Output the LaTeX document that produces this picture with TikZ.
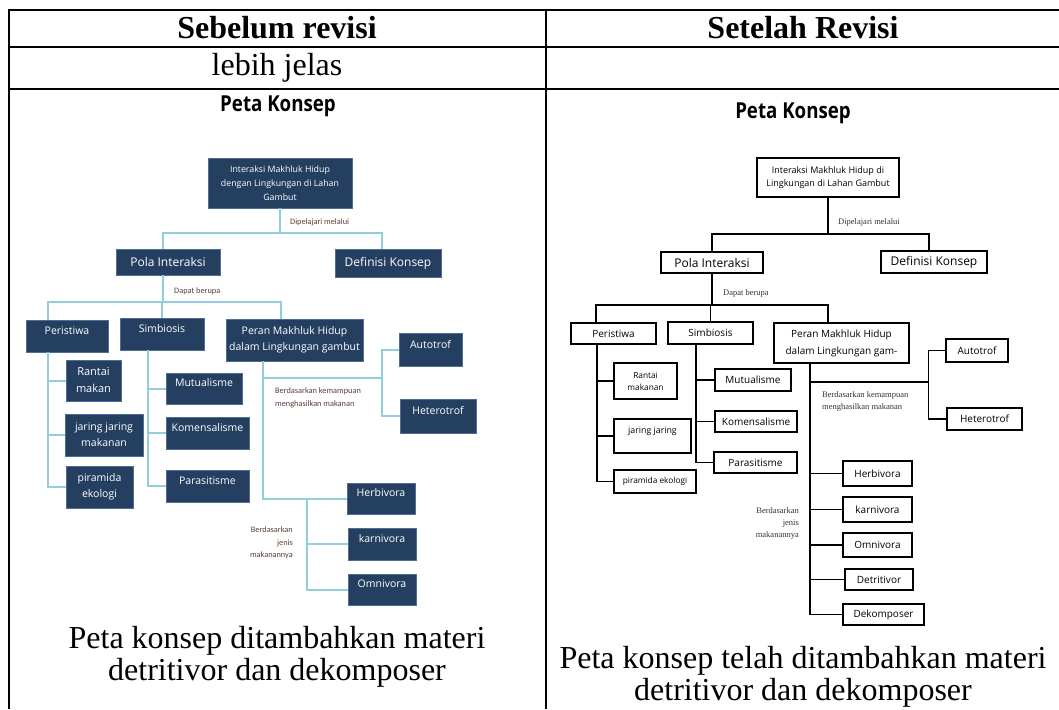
\documentclass[tikz,border=0pt]{standalone}
\usepackage{fontspec}
\setmainfont{Liberation Serif}
\newfontfamily\comicfont{Open Sans}
\newfontfamily\titlefont[FakeStretch=0.85]{Open Sans}
\newfontfamily\labelfont{Carlito}
\usepackage{tikz}
\usetikzlibrary{calc, shadows}
\definecolor{mapnavy}{HTML}{243F60}
\definecolor{navyedge}{HTML}{4F6C92}
\definecolor{lineblue}{HTML}{92CDDC}
\definecolor{labelbrown}{HTML}{5A3E36}

\begin{document}
\begin{tikzpicture}[x=1pt, y=-1pt,
    tableline/.style={line width=1.8pt},
    tablecell/.style={font=\fontsize{32}{32}\selectfont, align=center, inner sep=0pt},
    maptitle/.style={font=\titlefont\bfseries\fontsize{22}{24}\selectfont},
    navybox/.style={draw=navyedge, line width=0.8pt, fill=mapnavy, text=white,
      align=center, inner sep=1pt, font=\comicfont\fontsize{10.5}{16}\selectfont,
      general shadow={fill=navyedge!45, shadow xshift=1.3pt, shadow yshift=-1.3pt}},
    whitebox/.style={draw=black, line width=1.5pt, fill=white, align=center,
      inner sep=1pt, font=\comicfont\fontsize{10}{17}\selectfont},
    uptext/.style={text depth=11pt},
    blueline/.style={draw=lineblue, line width=2pt},
    blackline/.style={draw=black, line width=1.5pt},
    oldlabel/.style={font=\labelfont\fontsize{8.3}{13}\selectfont, text=labelbrown, inner sep=0pt},
    newlabel/.style={font=\fontsize{8.5}{11.5}\selectfont, text=black!80, inner sep=0pt}]

    \useasboundingbox (0,0) rectangle (1059,709);

    % Table
    \draw[tableline] (9,709) -- (9,10) -- (1059,10);
    \draw[tableline] (9,47) -- (1059,47);
    \draw[tableline] (9,89) -- (1059,89);
    \draw[tableline] (546,10) -- (546,709);
    \node[tablecell, font=\bfseries\fontsize{32}{32}\selectfont] (headold) at (277,28) {Sebelum revisi};
    \node[tablecell, font=\bfseries\fontsize{32}{32}\selectfont] (headnew) at (803,28) {Setelah Revisi};
    \node[tablecell] (noteold) at (277,68) {lebih jelas};
    \node[tablecell] (captold) at (277,657) {Peta konsep ditambahkan materi\\detritivor dan dekomposer};
    \node[tablecell] (captnew) at (803,677) {Peta konsep telah ditambahkan materi\\detritivor dan dekomposer};

    % Old concept map
    \node[maptitle] (ltitle) at (278,106) {Peta Konsep};
    \node[navybox, minimum width=144pt, minimum height=50pt, font=\comicfont\fontsize{8.8}{14}\selectfont]
      (ltop) at (280,183) {Interaksi Makhluk Hidup\\dengan Lingkungan di Lahan\\Gambut};
    \node[navybox, minimum width=104pt, minimum height=26pt, font=\comicfont\fontsize{12}{14}\selectfont]
      (lpola) at (168,262) {Pola Interaksi};
    \node[navybox, minimum width=106pt, minimum height=28pt, font=\comicfont\fontsize{12}{14}\selectfont]
      (ldef) at (388,263) {Definisi Konsep};
    \node[navybox, uptext, minimum width=82pt, minimum height=32pt] (lperi) at (67,336) {Peristiwa};
    \node[navybox, uptext, minimum width=84pt, minimum height=32pt] (lsimb) at (162,334) {Simbiosis};
    \node[navybox, minimum width=137pt, minimum height=42pt] (lperan) at (294.5,340)
      {Peran Makhluk Hidup\\dalam Lingkungan gambut};
    \node[navybox, minimum width=55pt, minimum height=41pt, font=\comicfont\fontsize{11}{17}\selectfont]
      (lrant) at (93.5,380.5) {Rantai\\makan};
    \node[navybox, minimum width=78pt, minimum height=42pt] (ljar) at (104,435) {jaring jaring\\makanan};
    \node[navybox, minimum width=67pt, minimum height=42pt] (lpira) at (99.5,487) {piramida\\ekologi};
    \node[navybox, uptext, minimum width=76pt, minimum height=31pt] (lmutu) at (204,388.5) {Mutualisme};
    \node[navybox, uptext, minimum width=83pt, minimum height=32pt] (lkome) at (207.5,433) {Komensalisme};
    \node[navybox, uptext, minimum width=83pt, minimum height=32pt] (lpara) at (207.5,486) {Parasitisme};
    \node[navybox, uptext, minimum width=63pt, minimum height=33pt] (lauto) at (430.5,349.5) {Autotrof};
    \node[navybox, uptext, minimum width=76pt, minimum height=34pt] (lhete) at (438,416) {Heterotrof};
    \node[navybox, uptext, minimum width=68pt, minimum height=31pt] (lherb) at (381,498.5) {Herbivora};
    \node[navybox, uptext, minimum width=68pt, minimum height=32pt] (lkarn) at (382,544) {karnivora};
    \node[navybox, uptext, minimum width=68pt, minimum height=31pt] (lomni) at (382,589.5) {Omnivora};

    % Old connectors
    \coordinate (lbusA) at (280,233);
    \coordinate (lbusB) at (163,302);
    \draw[blueline] (ltop.south) -- (lbusA);
    \draw[blueline] ([xshift=-5pt]lpola.north) |- (lbusA) -| ([xshift=-6pt]ldef.north);
    \draw[blueline] ([xshift=-5pt]lpola.south) -- (lbusB);
    \draw[blueline] ([xshift=-19pt]lperi.north) |- (lbusB) -| ([xshift=-13.5pt]lperan.north);
    \draw[blueline] (lsimb.north) -- (lsimb.north |- lbusB);
    \coordinate (lperiT) at ([xshift=-19pt]lperi.south);
    \coordinate (lsimbT) at ([xshift=-14pt]lsimb.south);
    \coordinate (lperanT) at ([xshift=-31.5pt]lperan.south);
    \coordinate (lsubT) at ([xshift=-40pt]lherb.west);
    \coordinate (lautoJ) at ([xshift=-17pt]lauto.west);
    \coordinate (lmid) at (382,378);
    \draw[blueline] (lperiT) |- (lpira.west);
    \foreach \child in {lrant, ljar}
      \draw[blueline] (\child.west) -- (\child.west -| lperiT);
    \draw[blueline] (lsimbT) |- (lpara.west);
    \foreach \child in {lmutu, lkome}
      \draw[blueline] (\child.west) -- (\child.west -| lsimbT);
    \draw[blueline] (lperanT) |- (lherb.west);
    \draw[blueline] (lsubT) |- (lomni.west);
    \draw[blueline] (lkarn.west) -- (lkarn.west -| lsubT);
    \draw[blueline] (lmid -| lperanT) -- (lmid);
    \draw[blueline] (lhete.west) -| (lautoJ) -- (lauto.west);

    % Old labels
    \node[oldlabel, anchor=west] (lstudy) at (290,222) {Dipelajari melalui};
    \node[oldlabel, anchor=west] (lcan) at (174,291) {Dapat berupa};
    \node[oldlabel, anchor=west, align=left] (lability) at (275,397.5) {Berdasarkan kemampuan\\menghasilkan makanan};
    \node[oldlabel, anchor=east, align=right, font=\labelfont\fontsize{8.3}{12.5}\selectfont]
      (lfood) at (293,543) {Berdasarkan\\jenis\\makanannya};

    % New concept map
    \node[maptitle] (rtitle) at (793,113) {Peta Konsep};
    \node[whitebox, minimum width=142pt, minimum height=39pt, font=\comicfont\fontsize{9}{13}\selectfont]
      (rtop) at (828,177.5) {Interaksi Makhluk Hidup di\\Lingkungan di Lahan Gambut};
    \node[whitebox, minimum width=102pt, minimum height=21pt, font=\comicfont\fontsize{12}{14}\selectfont]
      (rpola) at (712,262.5) {Pola Interaksi};
    \node[whitebox, minimum width=106pt, minimum height=22pt, font=\comicfont\fontsize{12}{14}\selectfont]
      (rdef) at (934,262) {Definisi Konsep};
    \node[whitebox, minimum width=85pt, minimum height=21pt] (rperi) at (613.5,333.5) {Peristiwa};
    \node[whitebox, minimum width=85pt, minimum height=22pt] (rsimb) at (710.5,333) {Simbiosis};
    \node[whitebox, minimum width=135pt, minimum height=40pt] (rperan) at (841.5,343)
      {Peran Makhluk Hidup\\dalam Lingkungan gam-};
    \node[whitebox, minimum width=63pt, minimum height=36pt, font=\comicfont\fontsize{8.3}{12}\selectfont]
      (rrant) at (645.5,381) {Rantai\\makanan};
    \node[whitebox, minimum width=77pt, minimum height=34pt, text depth=11pt, font=\comicfont\fontsize{8.8}{12}\selectfont]
      (rjar) at (652.5,436) {jaring jaring};
    \node[whitebox, minimum width=82pt, minimum height=23pt, font=\comicfont\fontsize{8.3}{12}\selectfont]
      (rpira) at (655,481.5) {piramida ekologi};
    \node[whitebox, minimum width=76pt, minimum height=22pt] (rmutu) at (753,380) {Mutualisme};
    \node[whitebox, minimum width=82pt, minimum height=21pt] (rkome) at (756,421.5) {Komensalisme};
    \node[whitebox, minimum width=83pt, minimum height=21pt] (rpara) at (755.5,462.5) {Parasitisme};
    \node[whitebox, minimum width=62pt, minimum height=23pt] (rauto) at (977,350.5) {Autotrof};
    \node[whitebox, minimum width=75pt, minimum height=22pt] (rhete) at (984.5,419) {Heterotrof};
    \node[whitebox, minimum width=69pt, minimum height=25pt] (rherb) at (877.5,473.5) {Herbivora};
    \node[whitebox, minimum width=69pt, minimum height=25pt] (rkarn) at (877.5,509.5) {karnivora};
    \node[whitebox, minimum width=69pt, minimum height=24pt] (romni) at (877.5,545) {Omnivora};
    \node[whitebox, minimum width=68pt, minimum height=21pt] (rdetr) at (879,579.5) {Detritivor};
    \node[whitebox, minimum width=81pt, minimum height=21pt] (rdeko) at (883.5,614.5) {Dekomposer};

    % New connectors
    \coordinate (rbusA) at (828,234);
    \coordinate (rbusB) at (712,305);
    \draw[blackline] (rtop.south) -- (rbusA);
    \draw[blackline] (rpola.north) |- (rbusA) -| ([xshift=-5pt]rdef.north);
    \draw[blackline] (rpola.south) -- (rbusB);
    \draw[blackline] ([xshift=-17.5pt]rperi.north) |- (rbusB) -| ([xshift=-13.5pt]rperan.north);
    \draw[blackline] (rsimb.north) -- (rsimb.north |- rbusB);
    \coordinate (rperiT) at ([xshift=-16.5pt]rperi.south);
    \coordinate (rsimbT) at ([xshift=-14.5pt]rsimb.south);
    \coordinate (rperanT) at ([xshift=-31.5pt]rperan.south);
    \coordinate (rautoJ) at ([xshift=-17pt]rauto.west);
    \coordinate (rmid) at (929,382);
    \draw[blackline] (rperiT) |- (rpira.west);
    \foreach \child in {rrant, rjar}
      \draw[blackline] (\child.west) -- (\child.west -| rperiT);
    \draw[blackline] (rsimbT) |- (rpara.west);
    \foreach \child in {rmutu, rkome}
      \draw[blackline] (\child.west) -- (\child.west -| rsimbT);
    \draw[blackline] (rperanT) |- (rdeko.west);
    \foreach \child in {rherb, rkarn, romni, rdetr}
      \draw[blackline] (\child.west) -- (\child.west -| rperanT);
    \draw[blackline] (rmid -| rperanT) -- (rmid);
    \draw[blackline] (rhete.west) -| (rautoJ) -- (rauto.west);

    % New labels
    \node[newlabel, anchor=west] (rstudy) at (838,222) {Dipelajari melalui};
    \node[newlabel, anchor=west] (rcan) at (723,293) {Dapat berupa};
    \node[newlabel, anchor=west, align=left] (rability) at (822,401.5) {Berdasarkan kemampuan\\menghasilkan makanan};
    \node[newlabel, anchor=east, align=right, font=\fontsize{8.5}{12}\selectfont]
      (rfood) at (799,523) {Berdasarkan\\jenis\\makanannya};

\end{tikzpicture}
\end{document}
